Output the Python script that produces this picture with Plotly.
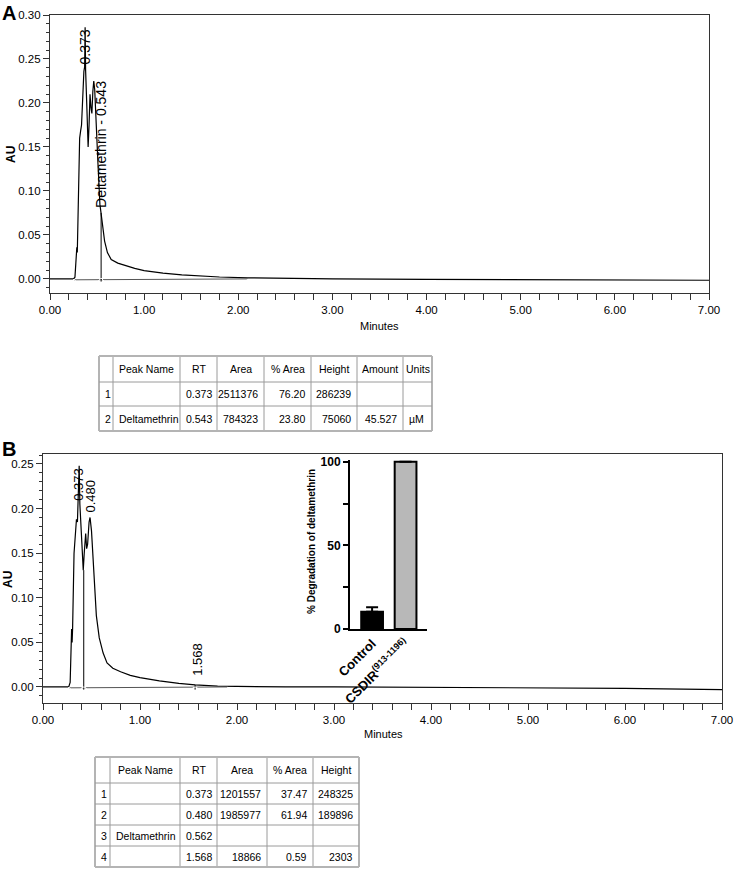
import plotly.graph_objects as go

W, H = 734, 869


def px_x(p):
    return p / W


def px_y(p):
    return 1 - p / H


SANS = "Liberation Sans, Arial, sans-serif"

# ---- panel A chromatogram (minutes, AU)
time_a = [0.00, 0.25, 0.265, 0.28, 0.285, 0.29, 0.30, 0.315, 0.325, 0.335, 0.36, 0.368,
          0.373, 0.378, 0.39, 0.405, 0.415, 0.425, 0.435, 0.445, 0.455, 0.465, 0.475,
          0.49, 0.51, 0.53, 0.543, 0.56, 0.58, 0.61, 0.65, 0.72, 0.80, 0.90, 1.00,
          1.20, 1.40, 1.60, 1.80, 2.10, 2.50, 3.00, 4.00, 5.00, 6.00, 7.00]
au_a = [0.000, 0.000, 0.002, 0.030, 0.036, 0.030, 0.080, 0.160, 0.168, 0.175, 0.236, 0.241,
        0.286, 0.238, 0.200, 0.150, 0.175, 0.210, 0.195, 0.188, 0.213, 0.225, 0.215,
        0.185, 0.130, 0.085, 0.075, 0.058, 0.043, 0.030, 0.022, 0.018, 0.015, 0.012, 0.0095,
        0.0065, 0.0045, 0.0032, 0.0022, 0.0012, 0.0005, 0.0, -0.0005, -0.001, -0.0012, -0.0015]

baseline_a_t = [0.255, 2.10]
baseline_a_y = [-0.001, 0.000]
peak_a_labels = ["0.373", "Deltamethrin - 0.543"]
peak_a_rt = [0.373, 0.543]
peak_a_label_y = [0.241, 0.078]
drop_a_rt = [0.543]
drop_a_top = [0.075]

# ---- panel B chromatogram
time_b = [0.00, 0.265, 0.28, 0.29, 0.295, 0.300, 0.305, 0.32, 0.335, 0.345, 0.355, 0.365,
          0.373, 0.38, 0.40, 0.415, 0.425, 0.44, 0.45, 0.46, 0.475, 0.485, 0.50, 0.52,
          0.55, 0.58, 0.62, 0.66, 0.72, 0.80, 0.90, 1.00, 1.20, 1.40, 1.568, 1.80, 2.00,
          2.50, 3.00, 4.00, 5.00, 6.00, 7.00]
au_b = [0.000, 0.000, 0.005, 0.040, 0.065, 0.050, 0.065, 0.150, 0.180, 0.188, 0.185, 0.215,
        0.248, 0.205, 0.160, 0.131, 0.150, 0.172, 0.155, 0.160, 0.185, 0.190, 0.175, 0.140,
        0.080, 0.055, 0.038, 0.027, 0.021, 0.017, 0.013, 0.0105, 0.0068, 0.0040, 0.0023, 0.0010, 0.0005,
        0.0, 0.0, -0.0005, -0.001, -0.0015, -0.003]

baseline_b_t = [0.268, 1.907]
baseline_b_y = [-0.001, 0.000]
peak_b_labels = ["0.373", "0.480", "1.568"]
peak_b_rt = [0.371, 0.487, 1.59]
peak_b_label_y = [0.207, 0.193, 0.010]
drop_b_rt = [0.42, 1.568]
drop_b_top = [0.131, 0.0023]

# ---- inset bar chart
inset_groups = ["<b>Control</b>", "<b>CSDIR<sup>(913-1196)</sup></b>"]
inset_values = [10.3, 100]
inset_err = [2.7, 0]
inset_colors = ["#000000", "#b8b8b8"]

# ---- tables
table_a_header = ["", "Peak Name", "RT", "Area", "% Area", "Height", "Amount", "Units"]
table_a_cells = [["1", "2"], ["", "Deltamethrin"], ["0.373", "0.543"], ["2511376", "784323"],
                 ["76.20", "23.80"], ["286239", "75060"], ["", "45.527"], ["", "µM"]]
table_b_header = ["", "Peak Name", "RT", "Area", "% Area", "Height"]
table_b_cells = [["1", "2", "3", "4"], ["", "", "Deltamethrin", ""],
                 ["0.373", "0.480", "0.562", "1.568"], ["1201557", "1985977", "", "18866"],
                 ["37.47", "61.94", "", "0.59"], ["248325", "189896", "", "2303"]]

fig = go.Figure()

line_style = dict(color="black", width=1.2)
mk = dict(color="white", size=6, line=dict(color="black", width=1))

for xa, ya, t, y, bt, by, drt, dtop, sym in [
    ("x", "y", time_a, au_a, baseline_a_t, baseline_a_y, drop_a_rt, drop_a_top,
     ["triangle-up", "diamond", "triangle-up"]),
    ("x2", "y2", time_b, au_b, baseline_b_t, baseline_b_y, drop_b_rt, drop_b_top,
     ["triangle-up", "circle", "circle", "triangle-up"]),
]:
    fig.add_trace(go.Scatter(x=t, y=y, mode="lines", line=line_style, xaxis=xa, yaxis=ya))
    fig.add_trace(go.Scatter(x=bt, y=by, mode="lines", line=dict(color="#555", width=1),
                             xaxis=xa, yaxis=ya))
    for r, top in zip(drt, dtop):
        fig.add_trace(go.Scatter(x=[r, r], y=[-0.003, top], mode="lines",
                                 line=dict(color="black", width=1), xaxis=xa, yaxis=ya))
    mx = sorted(bt + drt)
    fig.add_trace(go.Scatter(x=mx, y=[-0.0035] * len(mx), mode="markers",
                             marker=dict(mk, symbol=[s + "-open" for s in sym]),
                             xaxis=xa, yaxis=ya))

fig.add_trace(go.Bar(
    x=inset_groups, y=inset_values, width=0.65, xaxis="x3", yaxis="y3",
    marker=dict(color=inset_colors, line=dict(color="black", width=2)),
    error_y=dict(type="data", array=inset_err, arrayminus=[0, 0], symmetric=False,
                 color="black", thickness=2, width=6),
))

tick_font = dict(family=SANS, size=11.5, color="black")
x_common = dict(range=[0, 7], dtick=1, tickformat=".2f", ticks="outside", ticklen=6,
                tickcolor="#333", showline=True, linecolor="#333", linewidth=1.2, mirror=True,
                showgrid=False, zeroline=False, tickfont=tick_font, automargin=False,
                ticklabeloverflow="allow",
                minor=dict(dtick=0.2, ticks="outside", ticklen=6, tickcolor="#333"))
y_common = dict(dtick=0.05, tickformat=".2f", ticks="outside", ticklen=6, tickcolor="#333",
                showline=True, linecolor="#333", linewidth=1.2, mirror=True, showgrid=False,
                zeroline=False, tickfont=tick_font, automargin=False,
                ticklabeloverflow="allow",
                minor=dict(dtick=0.01, ticks="outside", ticklen=3, tickcolor="#333"))

fig.update_layout(
    width=W, height=H, margin=dict(l=0, r=0, t=0, b=0, autoexpand=False),
    paper_bgcolor="white", plot_bgcolor="rgba(0,0,0,0)", showlegend=False,
    xaxis=dict(x_common, domain=[px_x(50), px_x(709)], anchor="y"),
    yaxis=dict(y_common, domain=[px_y(293), px_y(15)], range=[-0.016, 0.30], anchor="x"),
    xaxis2=dict(x_common, domain=[px_x(43), px_x(722)], anchor="y2"),
    yaxis2=dict(y_common, domain=[px_y(703), px_y(454)], range=[-0.018, 0.2612], anchor="x2"),
    xaxis3=dict(domain=[px_x(350), px_x(427)], anchor="y3", range=[-0.66, 1.64],
                showline=True, linecolor="black", linewidth=2, ticks="", showgrid=False,
                tickangle=-45, automargin=False,
                tickfont=dict(family=SANS, size=13, color="black")),
    yaxis3=dict(domain=[px_y(629), px_y(460)], anchor="x3", range=[0, 101],
                tickvals=[0, 50, 100], ticktext=["<b>0</b>", "<b>50</b>", "<b>100</b>"],
                ticks="outside", ticklen=5, tickwidth=2, tickcolor="black",
                showline=True, linecolor="black", linewidth=2, showgrid=False, zeroline=False,
                tickfont=dict(family=SANS, size=12, color="black"), automargin=False,
                minor=dict(tickvals=[25, 75], ticks="outside", ticklen=5, tickwidth=2,
                           tickcolor="black")),
)

ann = []
shapes = []

# ---- tables drawn as grid lines + text
def draw_table(left, top, widths, heights, header, cells, aligns):
    xs = [left]
    for w in widths:
        xs.append(xs[-1] + w)
    ys = [top]
    for h in heights:
        ys.append(ys[-1] + h)
    for xv in xs:
        outer = xv in (xs[0], xs[-1])
        shapes.append(dict(type="line", xref="paper", yref="paper",
                           x0=px_x(xv), x1=px_x(xv), y0=px_y(ys[0]), y1=px_y(ys[-1]),
                           line=dict(color="#b4b4b4" if outer else "#9a9a9a",
                                     width=2 if outer else 1)))
    for yv in ys:
        outer = yv in (ys[0], ys[-1])
        shapes.append(dict(type="line", xref="paper", yref="paper",
                           x0=px_x(xs[0]), x1=px_x(xs[-1]), y0=px_y(yv), y1=px_y(yv),
                           line=dict(color="#b4b4b4" if outer else "#9a9a9a",
                                     width=2 if outer else 1)))
    rows = [header] + [list(r) for r in zip(*cells)]
    for ri, row in enumerate(rows):
        yc = (ys[ri] + ys[ri + 1]) / 2
        for ci, txt in enumerate(row):
            if not txt:
                continue
            al = "center" if ri == 0 else aligns[ci]
            if al == "left":
                xp, xa = xs[ci] + 4, "left"
            elif al == "right":
                xp, xa = xs[ci + 1] - 4, "right"
            else:
                xp, xa = (xs[ci] + xs[ci + 1]) / 2, "center"
            ann.append(dict(x=px_x(xp), y=px_y(yc), xref="paper", yref="paper",
                            text=txt, showarrow=False, xanchor=xa, yanchor="middle",
                            font=dict(family=SANS, size=10.5, color="black")))


draw_table(99, 356, [14, 67, 37, 47, 47, 46, 46, 29], [26, 24, 25],
           table_a_header, table_a_cells,
           ["left", "left", "center", "right", "right", "right", "right", "left"])
draw_table(95, 757, [15, 70, 37, 50, 46, 46], [26, 21, 21, 21, 21],
           table_b_header, table_b_cells,
           ["left", "left", "center", "right", "right", "right"])

for lab, r, yv in zip(peak_a_labels, peak_a_rt, peak_a_label_y):
    ann.append(dict(x=r, y=yv, xref="x", yref="y", text=lab, textangle=-90, showarrow=False,
                    xanchor="center", yanchor="bottom",
                    font=dict(family=SANS, size=14, color="black")))
for lab, r, yv in zip(peak_b_labels, peak_b_rt, peak_b_label_y):
    ann.append(dict(x=r, y=yv, xref="x2", yref="y2", text=lab, textangle=-90, showarrow=False,
                    xanchor="center", yanchor="bottom",
                    font=dict(family=SANS, size=13, color="black")))
for txt, x, y in [("A", 0, 0), ("B", 0, 436)]:
    ann.append(dict(x=px_x(x), y=px_y(y), xref="paper", yref="paper", text=f"<b>{txt}</b>",
                    showarrow=False, xanchor="left", yanchor="top",
                    font=dict(family=SANS, size=20, color="black")))
for txt, x, y in [("Minutes", 379, 326), ("Minutes", 383, 734)]:
    ann.append(dict(x=px_x(x), y=px_y(y), xref="paper", yref="paper", text=txt,
                    showarrow=False, xanchor="center", yanchor="middle",
                    font=dict(family=SANS, size=11, color="black")))
for x, y in [(11, 155), (8, 580)]:
    ann.append(dict(x=px_x(x), y=px_y(y), xref="paper", yref="paper", text="<b>AU</b>",
                    textangle=-90, showarrow=False, xanchor="center", yanchor="middle",
                    font=dict(family=SANS, size=12, color="black")))
ann.append(dict(x=px_x(311), y=px_y(542), xref="paper", yref="paper",
                text="<b>% Degradation of deltamethrin</b>", textangle=-90, showarrow=False,
                xanchor="center", yanchor="middle",
                font=dict(family=SANS, size=10, color="black")))
fig.update_layout(annotations=ann, shapes=shapes)

# the page body has a default 8px margin; drop it so the figure fills the window
fig.write_html("out.html", config={"displayModeBar": False},
               post_script="document.body.style.margin='0';document.body.style.padding='0';")
